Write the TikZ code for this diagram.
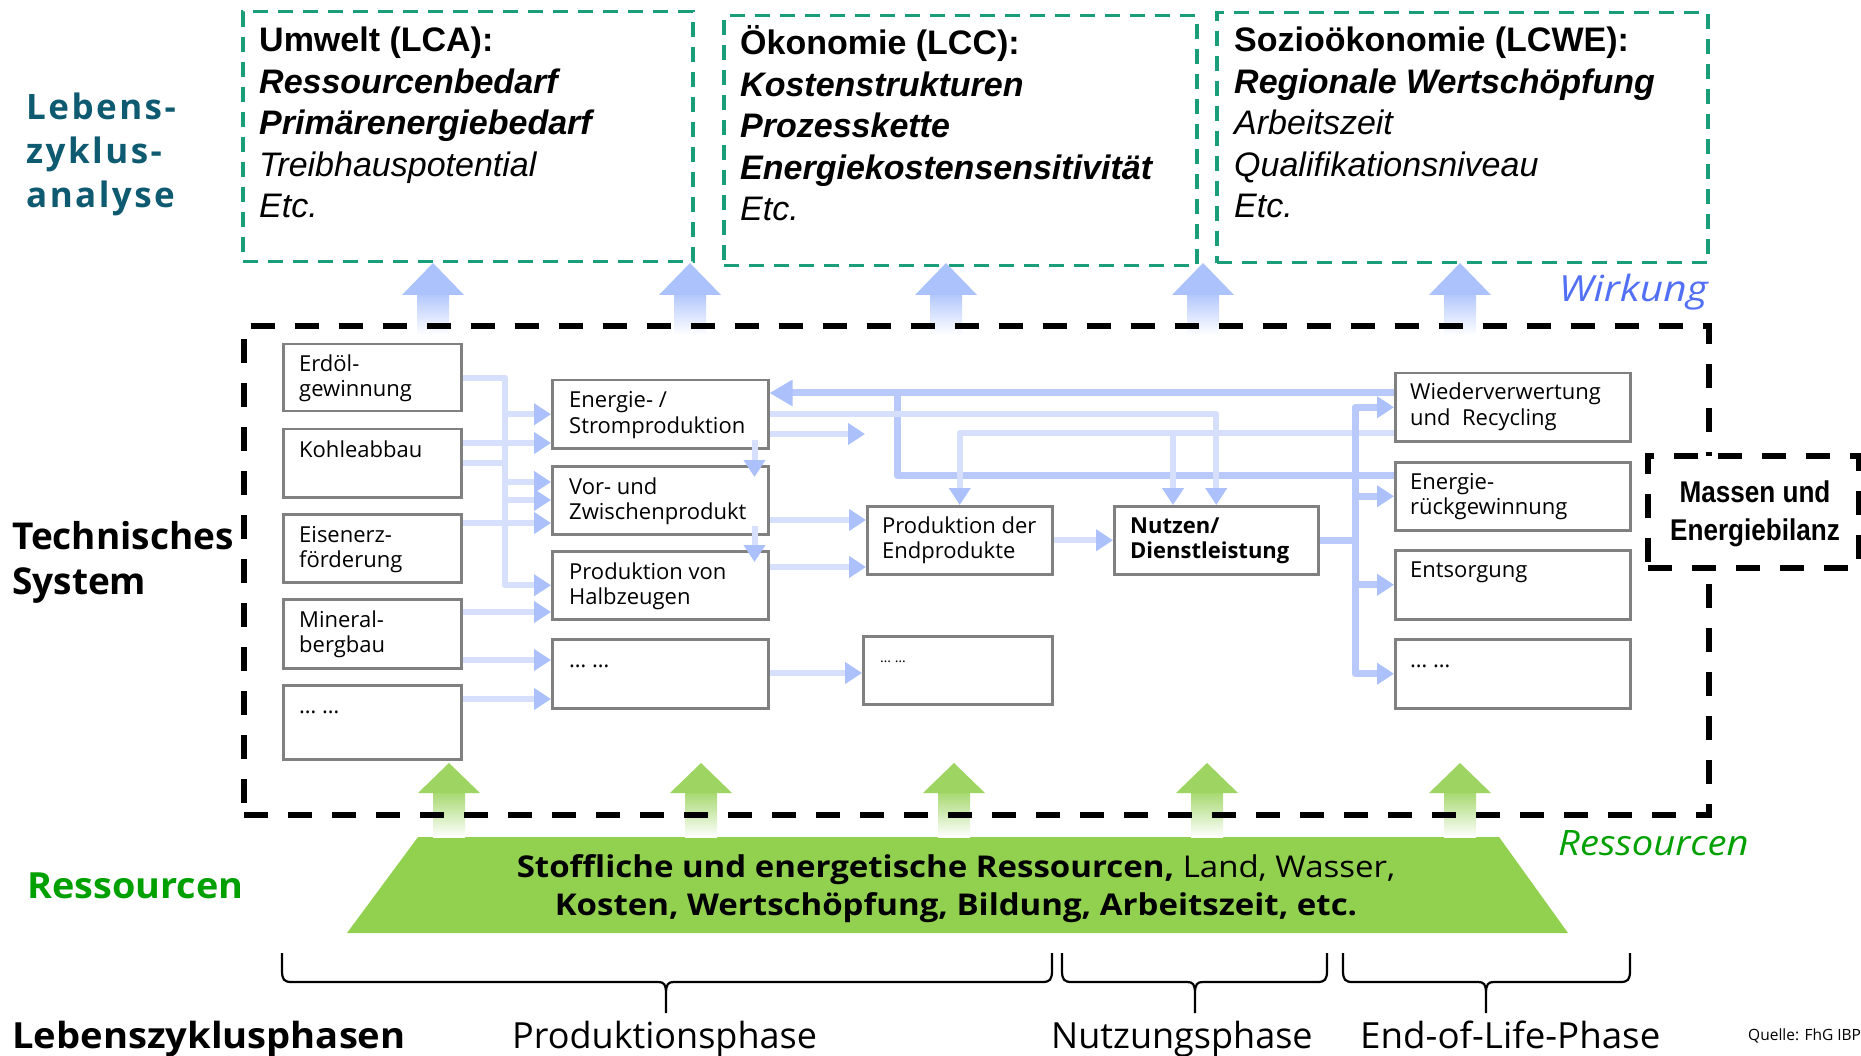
\documentclass[tikz,border=0pt]{standalone}
\usepackage{fontspec}
\setmainfont{Liberation Sans}
\newfontfamily\os{Open Sans}
\newfontfamily\osls[LetterSpace=7]{Open Sans}
\usetikzlibrary{arrows.meta}

\definecolor{tealdash}{RGB}{26,158,122}
\definecolor{lzablue}{RGB}{14,90,112}
\definecolor{wirkblue}{RGB}{82,112,246}
\definecolor{resgreen}{RGB}{0,160,0}
\definecolor{trapgreen}{RGB}{146,208,80}
\definecolor{upgreen}{RGB}{158,213,98}
\definecolor{upblue}{RGB}{172,194,252}
\definecolor{flowdark}{RGB}{185,201,252}
\definecolor{flowlight}{RGB}{214,224,253}
\definecolor{flowtip}{RGB}{172,193,252}
\definecolor{boxgray}{RGB}{128,128,128}

% left-aligned / centred stacked lines, baseline = first line
\newcommand{\rows}[1]{\begin{tabular}[t]{@{}l@{}}#1\end{tabular}}
\newcommand{\crows}[1]{\begin{tabular}[t]{@{}c@{}}#1\end{tabular}}
% horizontally widened text
\newcommand{\wide}[2]{\scalebox{#1}[1]{#2}}

% upward block arrow: centre x, tip y, head base y, shaft end y, colour
\newcommand{\blockup}[5]{%
  \shade[top color=#5!90, bottom color=white] ({#1-16},#3) rectangle ({#1+16},#4);
  \fill[#5] ({#1-31},#3) -- (#1,#2) -- ({#1+31},#3) -- cycle;}

% curly brace under a life-cycle phase: left x, tip x, right x
\newcommand{\phasebrace}[3]{%
  \draw[line width=2.2pt] (#1,953) -- (#1,970) .. controls (#1,980) and ({#1+2},982) .. ({#1+10},982)
    -- ({#2-8},982) .. controls ({#2-2},982) and (#2,984) .. (#2,994) -- (#2,1013)
    (#2,994) .. controls (#2,984) and ({#2+2},982) .. ({#2+8},982)
    -- ({#3-10},982) .. controls ({#3-2},982) and (#3,980) .. (#3,970) -- (#3,953);}

\begin{document}
\begin{tikzpicture}[x=1pt, y=-1pt,
  impactbox/.style={draw=tealdash, line width=3.5pt, dash pattern=on 15pt off 10pt,
    anchor=north west, inner sep=0pt, minimum height=250pt},
  impacttext/.style={anchor=base west, inner sep=0pt, font=\fontsize{34}{41.5}\selectfont},
  bigdash/.style={draw=black, line width=6pt, dash pattern=on 24pt off 20pt,
    anchor=north west, inner sep=0pt},
  procbox/.style={draw=boxgray, line width=2.5pt, fill=white, anchor=north west, inner sep=0pt},
  btext/.style={anchor=base west, inner sep=0pt, font=\os\fontsize{22}{25}\selectfont},
  flowL/.style={draw=flowlight, line width=6pt, line join=round},
  flowD/.style={draw=flowdark, line width=7pt, line join=round},
  tipA/.style={-{Triangle[length=17pt,width=21pt,color=flowtip]}},
  tipB/.style={-{Triangle[length=23pt,width=25pt,color=flowtip]}},
  bigtext/.style={anchor=base west, inner sep=0pt, font=\os\fontsize{36}{44}\selectfont}]

\useasboundingbox (0,0) rectangle (1861,1056);
\fill[white] (0,0) rectangle (1861,1056);

% impact categories
\node[impactbox, minimum width=450pt] (lca) at (241,10) {};
\node[impactbox, minimum width=473pt] (lcc) at (722,14) {};
\node[impactbox, minimum width=491pt] (lcwe) at (1215,11) {};

\node[impacttext] (lcaT) at (259,52) {\rows{\bfseries Umwelt (LCA):\\
  \bfseries\itshape Ressourcenbedarf\\ \bfseries\itshape Primärenergiebedarf\\
  \itshape Treibhauspotential\\ \itshape Etc.}};
\node[impacttext] (lccT) at (740,55) {\rows{\bfseries Ökonomie (LCC):\\
  \bfseries\itshape Kostenstrukturen\\ \bfseries\itshape Prozesskette\\
  \bfseries\itshape Energiekostensensitivität\\ \itshape Etc.}};
\node[impacttext] (lcweT) at (1234,52) {\rows{\bfseries Sozioökonomie (LCWE):\\
  \bfseries\itshape Regionale Wertschöpfung\\ \itshape Arbeitszeit\\
  \itshape Qualifikationsniveau\\ \itshape Etc.}};

% impact arrows
\blockup{433}{263}{295}{335}{upblue}
\blockup{690}{263}{295}{335}{upblue}
\blockup{946}{263}{295}{335}{upblue}
\blockup{1203}{263}{295}{335}{upblue}
\blockup{1460}{263}{295}{335}{upblue}

% resources
\fill[trapgreen] (418,837) -- (1499,837) -- (1568,933) -- (347,933) -- cycle;
\node[anchor=base, inner sep=0pt, font=\os\fontsize{30}{38}\selectfont] (resT) at (956,877)
  {\wide{1.1}{\crows{{\bfseries Stoffliche und energetische Ressourcen,} Land, Wasser,\\
   \bfseries Kosten, Wertschöpfung, Bildung, Arbeitszeit, etc.}}};

\blockup{449}{763}{793}{837}{upgreen}
\blockup{701}{763}{793}{837}{upgreen}
\blockup{954}{763}{793}{837}{upgreen}
\blockup{1207}{763}{793}{837}{upgreen}
\blockup{1460}{763}{793}{837}{upgreen}

% technical system boundary and balance box
\node[bigdash, minimum width=1465pt, minimum height=489pt] (tech) at (241,323) {};
\node[bigdash, fill=white, minimum width=211pt, minimum height=112pt] (massen) at (1645,453) {};
\node[anchor=base, inner sep=0pt, font=\bfseries\fontsize{30}{38}\selectfont] (massenT) at (1755,502)
  {\wide{0.87}{\crows{Massen und\\Energiebilanz}}};

% process boxes
\node[procbox, minimum width=178pt, minimum height=67pt] (erdol) at (282,343) {};
\node[procbox, minimum width=178pt, minimum height=68pt] (kohle) at (282,428) {};
\node[procbox, minimum width=178pt, minimum height=68pt] (eisen) at (282,513) {};
\node[procbox, minimum width=178pt, minimum height=69pt] (mineral) at (282,598) {};
\node[procbox, minimum width=178pt, minimum height=74pt] (dotsA) at (282,684) {};

\node[procbox, minimum width=216pt, minimum height=68pt] (energie) at (551,379) {};
\node[procbox, minimum width=216pt, minimum height=68pt] (vor) at (551,465) {};
\node[procbox, minimum width=216pt, minimum height=68pt] (halb) at (551,550) {};
\node[procbox, minimum width=216pt, minimum height=69pt] (dotsB) at (551,638) {};

\node[procbox, minimum width=185pt, minimum height=68pt] (endp) at (866,505) {};
\node[procbox, minimum width=189pt, minimum height=68pt] (dotsC) at (862,635) {};
\node[procbox, minimum width=204pt, minimum height=68pt] (nutzen) at (1113,505) {};

\node[procbox, minimum width=235pt, minimum height=68pt] (wieder) at (1394,372) {};
\node[procbox, minimum width=235pt, minimum height=68pt] (erueck) at (1394,461) {};
\node[procbox, minimum width=235pt, minimum height=69pt] (ents) at (1394,549) {};
\node[procbox, minimum width=235pt, minimum height=69pt] (dotsD) at (1394,638) {};

\node[btext] (erdolT) at ([shift={(17,29)}]erdol.north west) {\rows{Erdöl-\\gewinnung}};
\node[btext] (kohleT) at ([shift={(17,29)}]kohle.north west) {Kohleabbau};
\node[btext] (eisenT) at ([shift={(17,29)}]eisen.north west) {\rows{Eisenerz-\\förderung}};
\node[btext] (mineralT) at ([shift={(17,29)}]mineral.north west) {\rows{Mineral-\\bergbau}};
\node[btext] (dotsAT) at ([shift={(17,29)}]dotsA.north west) {… …};
\node[btext] (energieT) at ([shift={(18,29)}]energie.north west) {\rows{Energie- /\\Stromproduktion}};
\node[btext] (vorT) at ([shift={(18,29)}]vor.north west) {\rows{Vor- und\\Zwischenprodukt}};
\node[btext] (halbT) at ([shift={(18,29)}]halb.north west) {\rows{Produktion von\\Halbzeugen}};
\node[btext] (dotsBT) at ([shift={(18,29)}]dotsB.north west) {… …};
\node[btext] (endpT) at ([shift={(16,28)}]endp.north west) {\rows{Produktion der\\Endprodukte}};
\node[btext, font=\os\fontsize{14}{16}\selectfont] (dotsCT) at ([shift={(18,27)}]dotsC.north west) {… …};
\node[btext] (nutzenT) at ([shift={(17,28)}]nutzen.north west) {\rows{\bfseries Nutzen/\\\bfseries Dienstleistung}};
\node[btext] (wiederT) at ([shift={(16,28)}]wieder.north west) {\rows{Wiederverwertung\\und\ \ Recycling}};
\node[btext] (erueckT) at ([shift={(16,28)}]erueck.north west) {\rows{Energie-\\rückgewinnung}};
\node[btext] (entsT) at ([shift={(16,28)}]ents.north west) {Entsorgung};
\node[btext] (dotsDT) at ([shift={(16,29)}]dotsD.north west) {… …};

% flow connectors
\coordinate (busA) at (505,0);
\coordinate (busB) at (1355,0);
\coordinate (loose) at (865,434);
\coordinate (nIn) at (1173,505);
\coordinate (fbx) at (897,393);

\draw[flowL,tipA] (erdol.east) -| (busA |- halb.west) -- (halb.west);
\draw[flowL,tipA] (busA |- energie.west) -- (energie.west);
\draw[flowL,tipA] (busA |- 0,482) -- (vor.west |- 0,482);
\draw[flowL,tipA] (kohle.east |- 0,443) -- (energie.west |- 0,443);
\draw[flowL,tipA] (kohle.east) -| (busA |- 0,500) -- (vor.west |- 0,500);
\draw[flowL,tipA] (eisen.east |- 0,523) -- (vor.west |- 0,523);
\draw[flowL,tipA] (mineral.east |- 0,612) -- (halb.west |- 0,612);
\draw[flowL,tipA] (mineral.east |- 0,660) -- (dotsB.west |- 0,660);
\draw[flowL,tipA] (dotsA.east |- 0,699) -- (dotsB.west |- 0,699);

\draw[flowL,tipA] ([shift={(-15,-10)}]energie.south east) -- ([shift={(-15,12)}]vor.north east);
\draw[flowL,tipA] ([shift={(-15,-10)}]vor.south east) -- ([shift={(-15,12)}]halb.north east);

\draw[flowL,tipA] (energie.east |- loose) -- (loose);
\draw[flowL,tipA] (vor.east |- 0,520) -- (endp.west |- 0,520);
\draw[flowL,tipA] (halb.east |- 0,567) -- (endp.west |- 0,567);
\draw[flowL,tipA] (dotsB.east |- 0,673) -- (dotsC.west |- 0,673);
\draw[flowL,tipA] (endp.east) -- (nutzen.west);

\draw[flowD] (erueck.west |- 0,475) -| (fbx);
\draw[flowD,tipB] (wieder.west |- 0,393) -- (energie.east |- 0,393);
\draw[flowL,tipA] (energie.east) -| (nutzen.north);
\draw[flowL,tipA] (wieder.west |- 0,433) -| (endp.north);
\draw[flowL,tipA] (nIn |- 0,433) -- (nIn);

\draw[flowD,tipA] (nutzen.east) -- (busB |- nutzen.east) |- (wieder.west);
\draw[flowD,tipA] (busB |- nutzen.east) |- (dotsD.west);
\draw[flowD,tipA] (busB |- erueck.west) -- (erueck.west);
\draw[flowD,tipA] (busB |- ents.west) -- (ents.west);

% side labels
\node[anchor=base west, inner sep=0pt, text=lzablue, font=\osls\bfseries\fontsize{35}{44}\selectfont] (lzaL)
  at (26,120) {\rows{Lebens-\\zyklus-\\analyse}};
\node[anchor=base west, inner sep=0pt, font=\os\bfseries\fontsize{37}{45}\selectfont] (techL)
  at (12,549) {\rows{Technisches\\System}};
\node[anchor=base west, inner sep=0pt, text=resgreen, font=\os\bfseries\fontsize{36}{44}\selectfont] (resL)
  at (27,898) {\wide{1.05}{Ressourcen}};
\node[anchor=base east, inner sep=0pt, text=wirkblue, font=\os\itshape\fontsize{36}{40}\selectfont] (wirkL)
  at (1708,302) {\wide{1.13}{Wirkung}};
\node[anchor=base west, inner sep=0pt, text=resgreen, font=\os\itshape\fontsize{35}{40}\selectfont] (resR)
  at (1558,855) {\wide{1.09}{Ressourcen}};

% life-cycle phases
\phasebrace{282}{666}{1052}
\phasebrace{1062}{1195}{1327}
\phasebrace{1343}{1486}{1630}
\node[bigtext, font=\os\bfseries\fontsize{36}{44}\selectfont] (phasesL) at (12,1048) {\wide{1.06}{Lebenszyklusphasen}};
\node[bigtext] (prodL) at (512,1048) {Produktionsphase};
\node[bigtext] (nutzL) at (1051,1048) {Nutzungsphase};
\node[bigtext] (eolL) at (1360,1048) {\wide{1.02}{End-of-Life-Phase}};
\node[anchor=base west, inner sep=0pt, font=\os\fontsize{15.5}{18}\selectfont] (quelle) at (1748,1040) {Quelle: FhG IBP};

\end{tikzpicture}
\end{document}
